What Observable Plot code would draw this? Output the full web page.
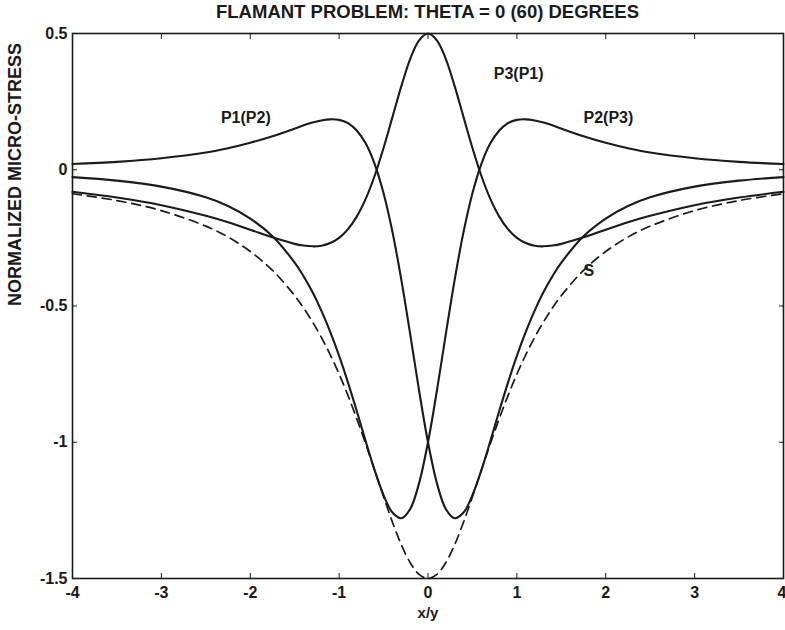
<!DOCTYPE html>
<html><head><meta charset="utf-8">
<script src="https://cdn.jsdelivr.net/npm/d3@7"></script>
<script src="https://cdn.jsdelivr.net/npm/@observablehq/plot@0.6"></script>
<style>
body{margin:0;background:#fff;}
#wrap{position:relative;width:785px;height:630px;font-family:"Liberation Sans",Arial,sans-serif;}
#title{position:absolute;top:1px;left:72px;width:711px;text-align:center;font-size:18.5px;font-weight:bold;color:#1a1a1a;}
#chart{position:absolute;top:0;left:0;}
</style></head><body>
<div id="wrap"><div id="chart"></div><div id="title">FLAMANT PROBLEM: THETA = 0 (60) DEGREES</div></div>
<script>
const xs = [-4,-3.5,-3,-2.5,-2.25,-2,-1.75,-1.5,-1.4,-1.3,-1.2,-1.1,-1,-0.9,-0.8,-0.7,-0.6,-0.5,-0.4,-0.3,-0.2,-0.1,0,0.1,0.2,0.3,0.4,0.5,0.6,0.7,0.8,0.9,1,1.1,1.2,1.3,1.4,1.5,1.75,2,2.25,2.5,3,3.5,4];
const p3 = [-0.081,-0.102,-0.130,-0.169,-0.193,-0.220,-0.248,-0.272,-0.278,-0.281,-0.279,-0.269,-0.250,-0.218,-0.171,-0.106,-0.022,0.080,0.193,0.307,0.407,0.475,0.500,0.475,0.407,0.307,0.193,0.080,-0.022,-0.106,-0.171,-0.218,-0.250,-0.269,-0.279,-0.281,-0.278,-0.272,-0.248,-0.220,-0.193,-0.169,-0.130,-0.102,-0.081];
const p1 = [0.021,0.029,0.042,0.063,0.079,0.099,0.123,0.151,0.163,0.173,0.181,0.185,0.183,0.171,0.143,0.096,0.021,-0.086,-0.228,-0.404,-0.604,-0.811,-1.000,-1.150,-1.245,-1.279,-1.258,-1.194,-1.103,-0.997,-0.887,-0.781,-0.683,-0.595,-0.517,-0.449,-0.391,-0.341,-0.244,-0.179,-0.133,-0.101,-0.062,-0.040,-0.027];
const p2 = [-0.027,-0.040,-0.062,-0.101,-0.133,-0.179,-0.244,-0.341,-0.391,-0.449,-0.517,-0.595,-0.683,-0.781,-0.887,-0.997,-1.103,-1.194,-1.258,-1.279,-1.245,-1.150,-1.000,-0.811,-0.604,-0.404,-0.228,-0.086,0.021,0.096,0.143,0.171,0.183,0.185,0.181,0.173,0.163,0.151,0.123,0.099,0.079,0.063,0.042,0.029,0.021];
const s = [-0.088,-0.113,-0.150,-0.207,-0.247,-0.300,-0.369,-0.462,-0.507,-0.558,-0.615,-0.679,-0.750,-0.829,-0.915,-1.007,-1.103,-1.200,-1.293,-1.376,-1.442,-1.485,-1.500,-1.485,-1.442,-1.376,-1.293,-1.200,-1.103,-1.007,-0.915,-0.829,-0.750,-0.679,-0.615,-0.558,-0.507,-0.462,-0.369,-0.300,-0.247,-0.207,-0.150,-0.113,-0.088];
const xTicks = [-4,-3,-2,-1,0,1,2,3,4];
const yTicks = [0.5,0,-0.5,-1,-1.5];
const xTitle = "x/y";
const yTitle = "NORMALIZED MICRO-STRESS";
const labelNames = ["P3(P1)","P1(P2)","P2(P3)","S"];
const labelX = [1.02,-2.05,2.03,1.81];
const labelY = [0.353,0.192,0.192,-0.37];

const rows = xs.map((x,i)=>({x, p1:p1[i], p2:p2[i], p3:p3[i], s:s[i]}));
const labels = labelNames.map((t,i)=>({t, x:labelX[i], y:labelY[i]}));
const fmt = d => String(d);
const ink = "#1a1a1a";
const lineOpts = {curve:"catmull-rom", stroke: ink, strokeWidth: 2.1};

const chart = Plot.plot({
  width: 785, height: 630,
  marginLeft: 72, marginRight: 2, marginTop: 33, marginBottom: 52,
  style: {fontFamily: '"Liberation Sans", Arial, sans-serif', fontSize: "16px", fontWeight: "bold", color: ink, background: "white"},
  x: {domain: [-4, 4]},
  y: {domain: [-1.5, 0.5]},
  marks: [
    Plot.axisX(xTicks.slice(0,-1), {anchor: "bottom", tickSize: 0, tickPadding: 8, tickFormat: fmt, label: null, fontSize: 16}),
    Plot.axisX(xTicks.slice(-1), {anchor: "bottom", tickSize: 0, tickPadding: 8, tickFormat: fmt, label: null, fontSize: 16, textAnchor: "end", dx: 3}),
    Plot.axisX(xTicks.slice(1,-1), {anchor: "bottom", tickSize: -5, text: null, label: null, stroke: ink}),
    Plot.axisX(xTicks.slice(1,-1), {anchor: "top", tickSize: -5, text: null, label: null, stroke: ink}),
    Plot.axisY(yTicks, {anchor: "left", tickSize: 0, tickPadding: 5, tickFormat: fmt, label: null, fontSize: 16}),
    Plot.axisY(yTicks.slice(1,-1), {anchor: "left", tickSize: -5, text: null, label: null, stroke: ink}),
    Plot.axisY(yTicks.slice(1,-1), {anchor: "right", tickSize: -5, text: null, label: null, stroke: ink}),
    Plot.text([xTitle], {frameAnchor: "bottom", dy: 39, fontSize: 15, fontWeight: "bold", fill: ink}),
    Plot.text([yTitle], {frameAnchor: "left", dx: -57, rotate: -90, fontSize: 18, fontWeight: "bold", fill: ink}),
    Plot.frame({stroke: ink, strokeWidth: 1.6}),
    Plot.line(rows, {x: "x", y: "s", ...lineOpts, strokeWidth: 1.7, strokeDasharray: "9,6"}),
    Plot.line(rows, {x: "x", y: "p3", ...lineOpts}),
    Plot.line(rows, {x: "x", y: "p1", ...lineOpts}),
    Plot.line(rows, {x: "x", y: "p2", ...lineOpts}),
    Plot.text(labels, {x: "x", y: "y", text: "t", fill: ink, fontSize: 16, fontWeight: "bold"})
  ]
});
document.getElementById("chart").append(chart);
</script>
</body></html>
